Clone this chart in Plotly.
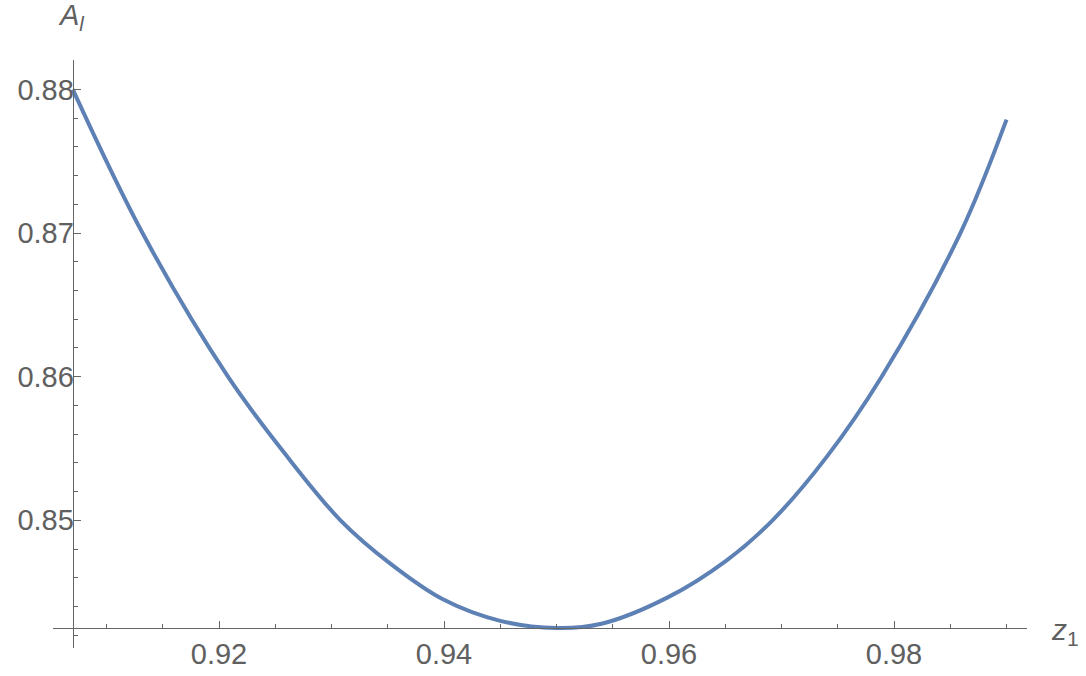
import plotly.graph_objects as go

# curve
z1 = [0.9070, 0.9132, 0.9208, 0.9258, 0.9308, 0.9352, 0.9399, 0.9450,
      0.9500, 0.9540, 0.9598, 0.9651, 0.9692, 0.9740, 0.9789, 0.9859,
      0.9900]
a_l = [0.8800, 0.8700, 0.8600, 0.8547, 0.8500, 0.8470, 0.8445, 0.8430,
       0.8425, 0.8428, 0.8446, 0.8472, 0.8500, 0.8544, 0.8600, 0.8700,
       0.8779]

x_ticks = [0.92, 0.94, 0.96, 0.98]
y_ticks = [0.85, 0.86, 0.87, 0.88]

# axes cross here (Mathematica style)
x_cross = 0.907
y_cross = 0.8425

W, H = 1086, 676
ML, MR, MT, MB = 53, 59, 60, 28
x_range = [0.905244, 0.991822]
y_range = [0.841111, 0.88205]

axis_grey = '#666666'
label_grey = '#606060'
font_fam = 'Liberation Sans, Arial, sans-serif'

fig = go.Figure()
fig.add_trace(go.Scatter(
    x=z1, y=a_l, mode='lines',
    line=dict(color='#5E81B5', width=4, shape='spline', smoothing=1.0),
    showlegend=False, hoverinfo='skip',
))

x_pos = (y_cross - y_range[0]) / (y_range[1] - y_range[0])
y_pos = (x_cross - x_range[0]) / (x_range[1] - x_range[0])

fig.update_xaxes(
    range=x_range, anchor='free', position=x_pos, automargin=False,
    showgrid=False, zeroline=False,
    showline=True, linecolor=axis_grey, linewidth=1.2,
    ticks='inside', ticklen=7, tickwidth=1.2, tickcolor=axis_grey,
    tickvals=x_ticks, ticktext=[f'{v:.2f}' for v in x_ticks],
    tickfont=dict(size=29, color=label_grey, family=font_fam),
    ticklabelstandoff=0,
    minor=dict(dtick=0.005, tick0=0.9, ticks='inside', ticklen=4,
               tickwidth=1.2, tickcolor=axis_grey),
)
fig.update_yaxes(
    range=y_range, anchor='free', position=y_pos, automargin=False,
    showgrid=False, zeroline=False,
    showline=True, linecolor=axis_grey, linewidth=1.2,
    ticks='inside', ticklen=7, tickwidth=1.2, tickcolor=axis_grey,
    tickvals=y_ticks, ticktext=[f'{v:.2f}' for v in y_ticks],
    tickfont=dict(size=29, color=label_grey, family=font_fam),
    ticklabelstandoff=-7,
    minor=dict(dtick=0.002, tick0=0.84, ticks='inside', ticklen=4,
               tickwidth=1.2, tickcolor=axis_grey),
)

pw, ph = W - ML - MR, H - MT - MB
fig.add_annotation(
    x=(56 - ML) / pw, y=(H - MB - 17) / ph,
    xref='paper', yref='paper', xanchor='left', yanchor='middle',
    text='<i>A<sub>l</sub></i>', showarrow=False,
    font=dict(size=29, color=label_grey, family=font_fam),
)
fig.add_annotation(
    x=(1049 - ML) / pw, y=(H - MB - 631) / ph,
    xref='paper', yref='paper', xanchor='left', yanchor='middle',
    text='<i>z</i><sub>1</sub>', showarrow=False,
    font=dict(size=30, color=label_grey, family=font_fam),
)

fig.update_layout(
    width=W, height=H,
    margin=dict(l=ML, r=MR, t=MT, b=MB),
    plot_bgcolor='white', paper_bgcolor='white',
)

# page body has an 8px default margin; drop it so the figure sits at 0,0
fig.write_html("out.html", config={'displayModeBar': False},
               post_script="document.body.style.margin='0';")
